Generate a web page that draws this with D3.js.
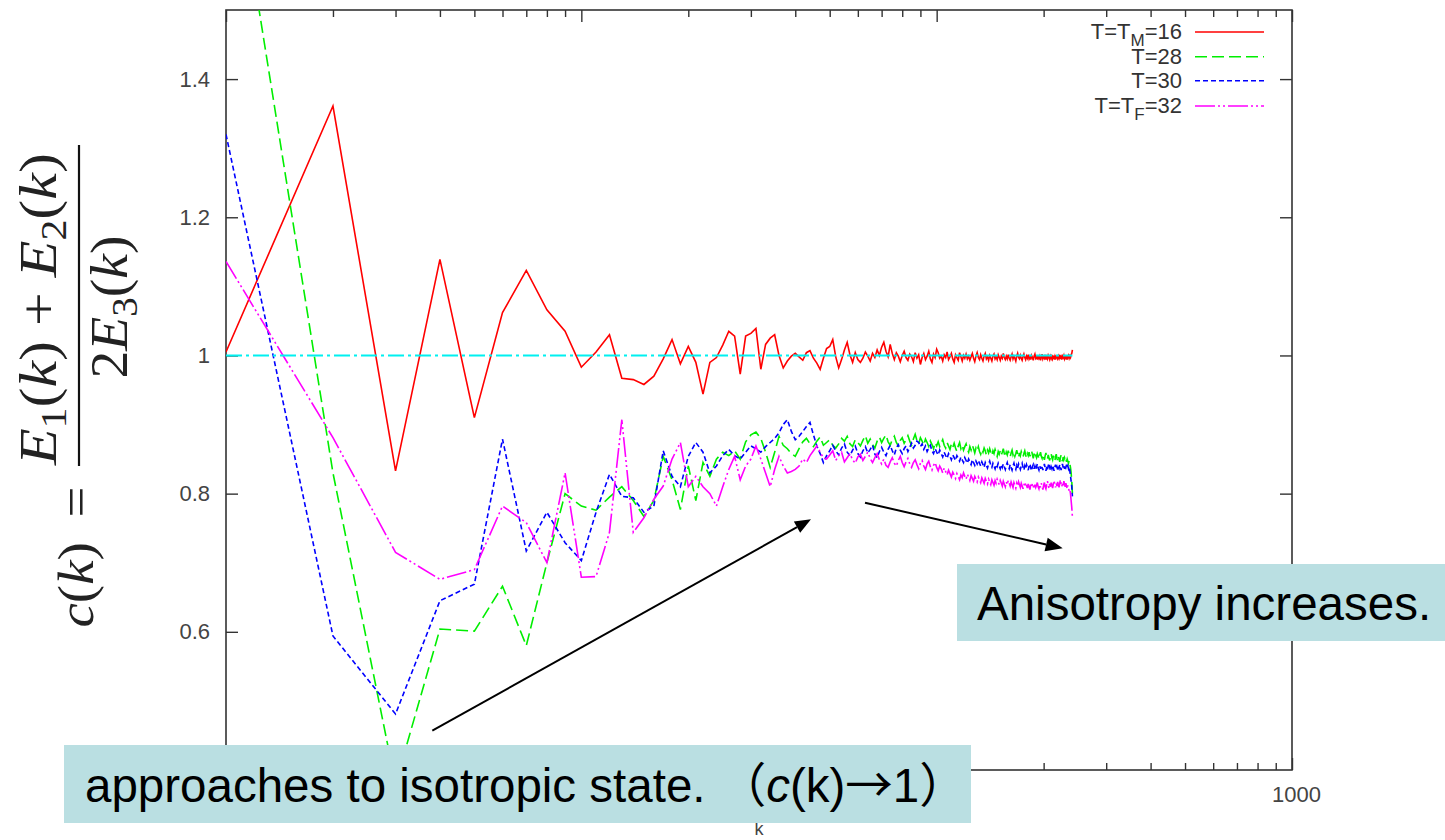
<!DOCTYPE html>
<html><head><meta charset="utf-8">
<script src="https://cdn.jsdelivr.net/npm/d3@7"></script>
<style>body{margin:0;background:#fff;overflow:hidden}</style>
</head><body>
<svg id="chart" width="1445" height="840"></svg>
<script>
// ---------- data (k = 1 .. 241) ----------
const seriesNames = ["T=T|M|=16", "T=28", "T=30", "T=T|F|=32"];
const seriesColors = ["#ff0000", "#00ee00", "#0000ff", "#ff00ff"];
const cT16 = [
1.005,1.361,0.833,1.139,0.910,1.062,1.123,1.066,1.035,0.983,
1.005,1.030,0.967,0.965,0.958,0.970,0.995,1.023,0.988,1.013,
0.990,0.944,0.990,0.997,1.015,1.035,1.028,0.973,1.028,1.032,
1.039,0.980,1.016,1.025,1.030,1.000,0.982,0.992,0.999,1.003,
0.998,0.993,1.004,1.007,0.996,0.989,0.980,0.996,1.010,1.013,
1.023,0.998,0.982,0.994,1.008,1.019,1.001,0.990,1.004,0.994,
0.990,0.996,1.005,0.999,0.992,1.003,0.997,1.008,1.000,1.012,
1.019,1.006,0.998,1.016,1.003,0.994,1.004,0.999,0.991,1.000,
1.006,0.997,0.993,1.002,0.998,0.991,1.004,0.996,1.001,0.987,
0.997,1.003,0.994,0.999,1.006,0.995,0.990,1.002,0.997,1.009,
1.004,0.996,0.999,0.992,1.001,0.997,1.005,0.994,0.998,1.003,
0.995,0.990,1.001,0.997,0.993,1.004,0.998,0.992,1.000,0.996,
1.002,0.995,0.999,0.993,0.998,1.003,0.996,0.991,0.999,1.004,
0.997,0.994,1.001,0.996,0.992,0.999,1.003,0.995,0.998,0.993,
1.000,0.996,0.992,0.999,1.002,0.995,0.998,0.994,1.001,0.997,
0.993,0.999,0.996,1.003,0.997,0.994,0.999,0.995,1.001,0.996,
0.993,0.998,1.002,0.995,0.999,0.996,0.992,0.999,1.003,0.997,
0.995,1.000,0.996,0.993,0.998,1.002,0.997,0.994,0.999,0.996,
1.001,0.995,0.998,0.994,1.000,0.997,0.993,0.999,1.002,0.996,
0.998,0.994,1.000,0.996,0.999,0.993,0.997,1.002,0.995,0.998,
0.996,1.001,0.994,0.998,0.995,1.000,0.997,0.994,0.999,0.996,
1.001,0.995,0.998,0.996,0.999,0.994,1.000,0.997,0.995,0.999,
0.996,1.001,0.995,0.998,0.994,0.999,0.997,1.000,0.995,0.998,
0.996,0.999,0.994,0.998,1.000,0.996,0.999,0.997,1.001,1.003,
1.008];
const cT28 = [
1.800,0.830,0.380,0.604,0.601,0.666,0.580,0.700,0.800,0.782,
0.776,0.795,0.810,0.790,0.767,0.790,0.854,0.820,0.777,0.840,
0.790,0.845,0.825,0.850,0.860,0.855,0.862,0.850,0.875,0.885,
0.889,0.880,0.860,0.838,0.860,0.883,0.870,0.865,0.858,0.854,
0.865,0.875,0.880,0.872,0.868,0.876,0.882,0.870,0.874,0.878,
0.870,0.866,0.872,0.880,0.876,0.883,0.872,0.868,0.878,0.874,
0.869,0.877,0.884,0.873,0.879,0.871,0.866,0.876,0.882,0.874,
0.880,0.885,0.875,0.870,0.878,0.883,0.874,0.869,0.877,0.881,
0.873,0.878,0.884,0.876,0.870,0.879,0.886,0.877,0.872,0.881,
0.876,0.870,0.879,0.874,0.868,0.876,0.871,0.865,0.874,0.869,
0.875,0.868,0.873,0.878,0.870,0.866,0.874,0.869,0.864,0.872,
0.867,0.873,0.866,0.861,0.869,0.874,0.865,0.870,0.863,0.868,
0.872,0.864,0.860,0.868,0.863,0.870,0.865,0.859,0.866,0.862,
0.868,0.861,0.857,0.864,0.860,0.866,0.862,0.856,0.863,0.859,
0.865,0.860,0.855,0.862,0.858,0.864,0.859,0.854,0.861,0.857,
0.862,0.856,0.860,0.865,0.858,0.853,0.860,0.856,0.862,0.857,
0.853,0.859,0.863,0.856,0.860,0.854,0.858,0.863,0.857,0.852,
0.859,0.855,0.861,0.857,0.853,0.858,0.862,0.856,0.852,0.858,
0.855,0.860,0.854,0.858,0.862,0.856,0.851,0.857,0.861,0.855,
0.852,0.858,0.855,0.850,0.856,0.860,0.854,0.851,0.857,0.853,
0.849,0.855,0.859,0.853,0.850,0.856,0.852,0.848,0.854,0.858,
0.852,0.849,0.855,0.851,0.847,0.853,0.857,0.851,0.848,0.854,
0.850,0.846,0.852,0.856,0.850,0.847,0.853,0.849,0.852,0.848,
0.851,0.846,0.850,0.847,0.844,0.848,0.843,0.838,0.830,0.818,
0.800];
const cT30 = [
1.320,0.594,0.481,0.645,0.669,0.879,0.717,0.773,0.729,0.703,
0.773,0.828,0.796,0.794,0.773,0.782,0.862,0.825,0.810,0.854,
0.874,0.860,0.830,0.840,0.855,0.864,0.855,0.850,0.860,0.869,
0.865,0.860,0.868,0.874,0.880,0.888,0.900,0.907,0.890,0.878,
0.883,0.890,0.897,0.903,0.885,0.869,0.858,0.845,0.855,0.862,
0.870,0.862,0.856,0.866,0.872,0.860,0.855,0.863,0.869,0.858,
0.853,0.862,0.868,0.859,0.864,0.870,0.857,0.852,0.861,0.867,
0.860,0.855,0.864,0.870,0.862,0.856,0.866,0.871,0.863,0.858,
0.865,0.869,0.861,0.867,0.873,0.866,0.870,0.876,0.874,0.868,
0.872,0.864,0.869,0.861,0.866,0.870,0.862,0.858,0.865,0.860,
0.856,0.863,0.858,0.853,0.860,0.855,0.851,0.858,0.854,0.849,
0.856,0.852,0.848,0.855,0.851,0.847,0.853,0.849,0.845,0.852,
0.848,0.844,0.850,0.846,0.842,0.849,0.845,0.841,0.847,0.843,
0.848,0.844,0.840,0.846,0.842,0.838,0.845,0.841,0.837,0.843,
0.847,0.841,0.838,0.844,0.840,0.836,0.842,0.839,0.844,0.840,
0.836,0.842,0.838,0.843,0.839,0.835,0.841,0.845,0.839,0.836,
0.842,0.838,0.834,0.840,0.844,0.838,0.835,0.841,0.837,0.843,
0.839,0.835,0.840,0.844,0.838,0.834,0.840,0.836,0.842,0.838,
0.834,0.840,0.843,0.837,0.833,0.839,0.842,0.836,0.840,0.835,
0.839,0.843,0.837,0.834,0.840,0.836,0.841,0.838,0.834,0.839,
0.843,0.837,0.833,0.839,0.835,0.840,0.844,0.838,0.834,0.839,
0.836,0.841,0.837,0.833,0.838,0.842,0.836,0.839,0.835,0.840,
0.837,0.842,0.838,0.834,0.839,0.843,0.837,0.840,0.836,0.841,
0.838,0.842,0.837,0.840,0.836,0.839,0.833,0.826,0.818,0.810,
0.796];
const cT32 = [
1.136,0.881,0.715,0.676,0.690,0.782,0.758,0.700,0.830,0.679,
0.680,0.744,0.907,0.744,0.765,0.792,0.811,0.850,0.874,0.810,
0.825,0.810,0.800,0.782,0.810,0.835,0.854,0.820,0.840,0.850,
0.869,0.850,0.830,0.810,0.835,0.854,0.840,0.830,0.832,0.835,
0.840,0.850,0.845,0.855,0.862,0.869,0.860,0.852,0.850,0.856,
0.862,0.848,0.855,0.860,0.846,0.852,0.858,0.849,0.844,0.853,
0.857,0.848,0.854,0.860,0.851,0.845,0.852,0.858,0.849,0.843,
0.850,0.841,0.838,0.846,0.852,0.844,0.840,0.848,0.854,0.845,
0.839,0.846,0.851,0.843,0.838,0.845,0.849,0.842,0.836,0.844,
0.848,0.840,0.835,0.843,0.847,0.839,0.834,0.841,0.845,0.838,
0.833,0.840,0.836,0.830,0.837,0.832,0.827,0.834,0.829,0.824,
0.831,0.827,0.822,0.829,0.825,0.820,0.827,0.823,0.830,0.825,
0.821,0.828,0.824,0.819,0.826,0.822,0.818,0.825,0.821,0.817,
0.824,0.820,0.816,0.823,0.819,0.815,0.822,0.818,0.814,0.821,
0.817,0.813,0.820,0.816,0.812,0.819,0.815,0.821,0.817,0.813,
0.819,0.815,0.811,0.818,0.814,0.810,0.817,0.813,0.819,0.815,
0.811,0.817,0.813,0.809,0.816,0.812,0.808,0.815,0.811,0.817,
0.813,0.809,0.815,0.811,0.807,0.814,0.810,0.816,0.812,0.808,
0.814,0.810,0.806,0.813,0.809,0.815,0.811,0.807,0.813,0.809,
0.812,0.816,0.810,0.807,0.813,0.809,0.815,0.811,0.806,0.812,
0.816,0.810,0.807,0.813,0.818,0.812,0.808,0.814,0.810,0.816,
0.812,0.808,0.814,0.819,0.813,0.809,0.815,0.811,0.817,0.813,
0.809,0.815,0.820,0.814,0.810,0.816,0.812,0.818,0.814,0.810,
0.815,0.811,0.807,0.812,0.808,0.804,0.806,0.800,0.790,0.780,
0.766];
const referenceLevel = 1;
const yTicks = [0.6, 0.8, 1, 1.2, 1.4];
const yTickLabels = ["0.6", "0.8", "1", "1.2", "1.4"];
const xMajorTicks = [1, 10, 100, 1000];
const xTickLabels = ["", "", "", "1000"];   // 1, 10, 100 are hidden under the annotation box
const xMinorTicks = [2,3,4,5,6,7,8,9,20,30,40,50,60,70,80,90,200,300,400,500,600,700,800,900];

// ---------- layout ----------
const svg = d3.select("#chart");
const P = {left: 226, right: 1292, top: 10, bottom: 770};
const x = d3.scaleLog().domain([1, 1000]).range([P.left, P.right]);
const y = d3.scaleLinear().domain([0.4, 1.5]).range([P.bottom, P.top]);
const tickFont = "'Liberation Sans', Arial, Helvetica, sans-serif";
const frameColor = "#333";

svg.append("defs").append("clipPath").attr("id", "plotclip")
  .append("rect").attr("x", P.left).attr("y", P.top)
  .attr("width", P.right - P.left).attr("height", P.bottom - P.top);

function styleAxis(g) {
  g.select(".domain").remove();
  g.selectAll(".tick line").attr("stroke", frameColor).attr("stroke-width", 1.4);
  g.selectAll(".tick text").attr("fill", "#444").attr("font-size", 22).attr("font-family", tickFont);
}
svg.append("g").attr("transform", `translate(${P.left},0)`)
  .call(d3.axisLeft(y).tickValues(yTicks).tickSize(-12).tickPadding(16)
    .tickFormat((d, i) => yTickLabels[i])).call(styleAxis);
svg.append("g").attr("transform", `translate(${P.right},0)`)
  .call(d3.axisRight(y).tickValues(yTicks).tickSize(-12).tickFormat("")).call(styleAxis);
svg.append("g").attr("transform", `translate(0,${P.bottom})`)
  .call(d3.axisBottom(x).tickValues(xMajorTicks).tickSize(-12).tickPadding(16)
    .tickFormat((d, i) => xTickLabels[i])).call(styleAxis)
  .selectAll(".tick text").attr("dx", 4);
svg.append("g").attr("transform", `translate(0,${P.bottom})`)
  .call(d3.axisBottom(x).tickValues(xMinorTicks).tickSize(-7).tickFormat("")).call(styleAxis);
svg.append("g").attr("transform", `translate(0,${P.top})`)
  .call(d3.axisTop(x).tickValues(xMajorTicks).tickSize(-12).tickFormat("")).call(styleAxis);
svg.append("g").attr("transform", `translate(0,${P.top})`)
  .call(d3.axisTop(x).tickValues(xMinorTicks).tickSize(-7).tickFormat("")).call(styleAxis);

svg.append("rect").attr("x", P.left).attr("y", P.top)
  .attr("width", P.right - P.left).attr("height", P.bottom - P.top)
  .attr("fill", "none").attr("stroke", frameColor).attr("stroke-width", 1.6);

svg.append("text").attr("x", (P.left + P.right) / 2).attr("y", 835)
  .attr("text-anchor", "middle").attr("font-family", tickFont).attr("font-size", 18)
  .attr("fill", "#444").text("k");

// ---------- series ----------
const allSeries = [cT16, cT28, cT30, cT32];
const dashes = [null, "12,5", "5,3", "20,3,2,3,2,3"];
const line = d3.line().x(d => x(d.k)).y(d => y(d.v));
const plot = svg.append("g").attr("clip-path", "url(#plotclip)");
allSeries.forEach((vals, s) => {
  const pts = vals.map((v, i) => ({k: i + 1, v}));
  plot.append("path").datum(pts).attr("d", line)
    .attr("fill", "none").attr("stroke", seriesColors[s]).attr("stroke-width", 1.6)
    .attr("stroke-dasharray", dashes[s]).attr("stroke-linejoin", "miter");
});
const refPts = cT16.map((v, i) => ({k: i + 1, v: referenceLevel}));
plot.append("path").datum(refPts).attr("d", line)
  .attr("fill", "none").attr("stroke", "#00f0f0").attr("stroke-width", 2)
  .attr("stroke-dasharray", "16,4,3,4");

// ---------- legend ----------
const legY = [32, 56.7, 80.7, 106];
const leg = svg.append("g").attr("font-family", tickFont).attr("font-size", 22).attr("fill", "#333");
seriesNames.forEach((name, i) => {
  const t = leg.append("text").attr("x", 1182).attr("y", legY[i] + 7).attr("text-anchor", "end");
  const parts = name.split("|");
  if (parts.length === 3) {
    t.append("tspan").text(parts[0]);
    t.append("tspan").attr("dy", 7).attr("font-size", 17).text(parts[1]);
    t.append("tspan").attr("dy", -7).text(parts[2]);
  } else t.text(name);
  leg.append("line").attr("x1", 1195).attr("x2", 1264).attr("y1", legY[i]).attr("y2", legY[i])
    .attr("stroke", seriesColors[i]).attr("stroke-width", 1.6).attr("stroke-dasharray", dashes[i]);
});

// ---------- y label (formula) ----------
const ylab = svg.append("g").attr("font-family", "'Liberation Serif','DejaVu Serif',serif").attr("fill", "#222");
function mathText(parts, cx, cy, target, size) {
  const t = ylab.append("text").attr("font-size", size);
  parts.forEach(p => {
    const s = t.append("tspan").text(p.t);
    if (p.i) s.attr("font-style", "italic");
    if (p.sub) s.attr("font-size", size * 0.7);
    if (p.dy) s.attr("dy", p.dy);
  });
  const w = t.node().getComputedTextLength();
  t.attr("transform", `translate(${cx},${cy}) rotate(-90) scale(${target / w},1) translate(${-w / 2},0)`);
}
mathText([{t: "c", i: 1}, {t: "("}, {t: "k", i: 1}, {t: ")\u2009 = "}], 93, 557, 141, 50);
mathText([{t: "E", i: 1}, {t: "1", sub: 1, dy: 10}, {t: "(", dy: -10}, {t: "k", i: 1}, {t: ") + "},
          {t: "E", i: 1}, {t: "2", sub: 1, dy: 10}, {t: "(", dy: -10}, {t: "k", i: 1}, {t: ")"}], 56, 309, 312, 52);
mathText([{t: "2"}, {t: "E", i: 1}, {t: "3", sub: 1, dy: 10}, {t: "(", dy: -10}, {t: "k", i: 1}, {t: ")"}], 127, 307, 143, 52);
ylab.append("line").attr("x1", 79).attr("x2", 79).attr("y1", 145).attr("y2", 466)
  .attr("stroke", "#111").attr("stroke-width", 2.2);

// ---------- annotations ----------
function arrow(x1, y1, x2, y2, len, wid) {
  const a = Math.atan2(y2 - y1, x2 - x1);
  const bx = x2 - len * Math.cos(a), by = y2 - len * Math.sin(a);
  const nx = -Math.sin(a) * wid / 2, ny = Math.cos(a) * wid / 2;
  svg.append("line").attr("x1", x1).attr("y1", y1).attr("x2", bx).attr("y2", by)
    .attr("stroke", "#000").attr("stroke-width", 2);
  svg.append("polygon").attr("points", `${x2},${y2} ${bx + nx},${by + ny} ${bx - nx},${by - ny}`).attr("fill", "#000");
}
arrow(432.3, 730.7, 811, 519.3, 16, 13);
arrow(865, 502.7, 1062.7, 548.3, 17, 14);

const boxFill = "#badfe2";
const annFont = "'Liberation Sans', Arial, Helvetica, sans-serif";
svg.append("rect").attr("x", 957).attr("y", 564).attr("width", 488).attr("height", 77).attr("fill", boxFill);
svg.append("text").attr("x", 977).attr("y", 620).attr("font-family", annFont).attr("font-size", 47.5)
  .attr("fill", "#000").text("Anisotropy increases.");

svg.append("rect").attr("x", 64).attr("y", 745).attr("width", 907).attr("height", 78).attr("fill", boxFill);
const t2 = svg.append("text").attr("x", 85).attr("y", 802).attr("font-family", annFont)
  .attr("font-size", 47.5).attr("fill", "#000");
t2.append("tspan").text("approaches to isotropic state. ");
t2.append("tspan").attr("font-family", "'Noto Sans CJK JP', sans-serif").text("\uFF08");
t2.append("tspan").attr("font-style", "italic").text("c");
t2.append("tspan").text("(k)");
t2.append("tspan").attr("font-family", "'Noto Sans CJK JP', sans-serif").text("\u2192");
t2.append("tspan").text("1");
t2.append("tspan").attr("font-family", "'Noto Sans CJK JP', sans-serif").text("\uFF09");
</script>
</body></html>
